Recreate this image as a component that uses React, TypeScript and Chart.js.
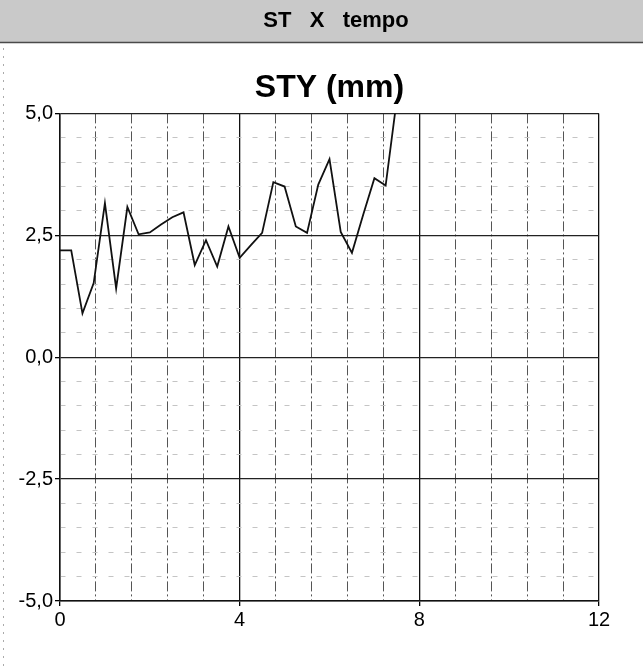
import { useEffect, useRef } from "react";
import { Chart, registerables } from "chart.js";

Chart.register(...registerables);

const headerText = "ST   X   tempo";
const chartTitle = "STY (mm)";

const timeValues = [
  0, 0.25, 0.5, 0.75, 1.0, 1.25, 1.5, 1.75, 2.0, 2.25, 2.5, 2.75, 3.0, 3.25, 3.5, 3.75,
  4.0, 4.25, 4.5, 4.75, 5.0, 5.25, 5.5, 5.75, 6.0, 6.25, 6.5, 6.75, 7.0, 7.25, 7.5,
];
const styValues = [
  2.19, 2.19, 0.9, 1.52, 3.16, 1.41, 3.08, 2.52, 2.56, 2.72, 2.87, 2.97, 1.89, 2.4, 1.86, 2.68,
  2.04, 2.3, 2.55, 3.59, 3.5, 2.68, 2.55, 3.54, 4.06, 2.57, 2.14, 2.92, 3.67, 3.52, 5.3,
];

const xMajorTicks = [0, 4, 8, 12];
const yMajorTicks = [-5, -2.5, 0, 2.5, 5];
const xMinorStep = 0.8;
const yMinorStep = 0.5;

const FONT = "'Liberation Sans', Arial, Helvetica, sans-serif";

const isMajor = (v: number, majors: number[]) => majors.some((m) => Math.abs(m - v) < 1e-6);

const headerPlugin = {
  id: "headerBand",
  beforeDraw(chart: any) {
    const ctx = chart.ctx;
    const w = chart.width;
    ctx.save();
    ctx.fillStyle = "#ffffff";
    ctx.fillRect(0, 0, w, chart.height);
    ctx.fillStyle = "#c9c9c9";
    ctx.fillRect(0, 0, w, 42);
    ctx.strokeStyle = "#4a4a4a";
    ctx.lineWidth = 1.5;
    ctx.beginPath();
    ctx.moveTo(0, 42.5);
    ctx.lineTo(w, 42.5);
    ctx.stroke();
    ctx.fillStyle = "#000";
    ctx.font = `bold 22px ${FONT}`;
    ctx.textAlign = "center";
    ctx.textBaseline = "middle";
    ctx.fillText(headerText, 336, 21);
    ctx.strokeStyle = "#aaaaaa";
    ctx.lineWidth = 1;
    ctx.setLineDash([2, 6]);
    ctx.beginPath();
    ctx.moveTo(3.5, 48);
    ctx.lineTo(3.5, chart.height);
    ctx.stroke();
    ctx.restore();
  },
};

export default function App() {
  const ref = useRef<HTMLCanvasElement | null>(null);

  useEffect(() => {
    if (!ref.current) return;
    const chart = new Chart(ref.current, {
      type: "line",
      data: {
        datasets: [
          {
            label: chartTitle,
            data: timeValues.map((t, i) => ({ x: t, y: styValues[i] })),
            borderColor: "#111",
            borderWidth: 1.8,
            pointRadius: 0,
            tension: 0,
            fill: false,
          },
        ],
      },
      options: {
        animation: false,
        responsive: false,
        devicePixelRatio: 1,
        layout: { padding: { top: 43, left: 0, right: 44, bottom: 0 } },
        plugins: {
          legend: { display: false },
          tooltip: { enabled: false },
          title: {
            display: true,
            text: chartTitle,
            fullSize: false,
            color: "#000",
            font: { family: FONT, size: 32, weight: "bold", lineHeight: 1.2 },
            padding: { top: 26, bottom: 6 },
          },
        },
        scales: {
          x: {
            type: "linear",
            min: 0,
            max: 12,
            afterFit: (s: any) => {
              s.height = 66;
            },
            ticks: {
              stepSize: xMinorStep,
              autoSkip: false,
              maxRotation: 0,
              padding: 2,
              color: "#000",
              font: { family: FONT, size: 20 },
              callback: (v: any) => (isMajor(Number(v), xMajorTicks) ? String(Math.round(Number(v))) : ""),
            },
            grid: {
              drawOnChartArea: true,
              tickLength: 5,
              color: (c: any) => (isMajor(c.tick?.value, xMajorTicks) ? "#111" : "#555"),
              lineWidth: (c: any) => (isMajor(c.tick?.value, xMajorTicks) ? 1.3 : 1),
              tickColor: (c: any) => (isMajor(c.tick?.value, xMajorTicks) ? "#000" : "rgba(0,0,0,0)"),
            },
            border: {
              display: true,
              color: "#111",
              width: 1.5,
              dash: (c: any) => (isMajor(c.tick?.value, xMajorTicks) ? [] : [10, 3, 2, 3]),
            },
          },
          y: {
            type: "linear",
            min: -5,
            max: 5,
            afterFit: (s: any) => {
              s.width = 60;
            },
            ticks: {
              stepSize: yMinorStep,
              autoSkip: false,
              padding: 2,
              color: "#000",
              font: { family: FONT, size: 20 },
              callback: (v: any) =>
                isMajor(Number(v), yMajorTicks) ? Number(v).toFixed(1).replace(".", ",") : "",
            },
            grid: {
              tickLength: 5,
              color: (c: any) => (isMajor(c.tick?.value, yMajorTicks) ? "#222" : "#c4c4c4"),
              lineWidth: (c: any) => (isMajor(c.tick?.value, yMajorTicks) ? 1.3 : 1),
              tickColor: (c: any) => (isMajor(c.tick?.value, yMajorTicks) ? "#000" : "rgba(0,0,0,0)"),
            },
            border: {
              display: true,
              color: "#111",
              width: 1.5,
              dash: (c: any) => (isMajor(c.tick?.value, yMajorTicks) ? [] : [5, 11]),
            },
          },
        },
      },
      plugins: [headerPlugin],
    });
    return () => chart.destroy();
  }, []);

  return (
    <div style={{ position: "absolute", left: 0, top: 0, width: 643, height: 667, background: "#fff" }}>
      <canvas ref={ref} width={643} height={667} style={{ display: "block" }} />
    </div>
  );
}
